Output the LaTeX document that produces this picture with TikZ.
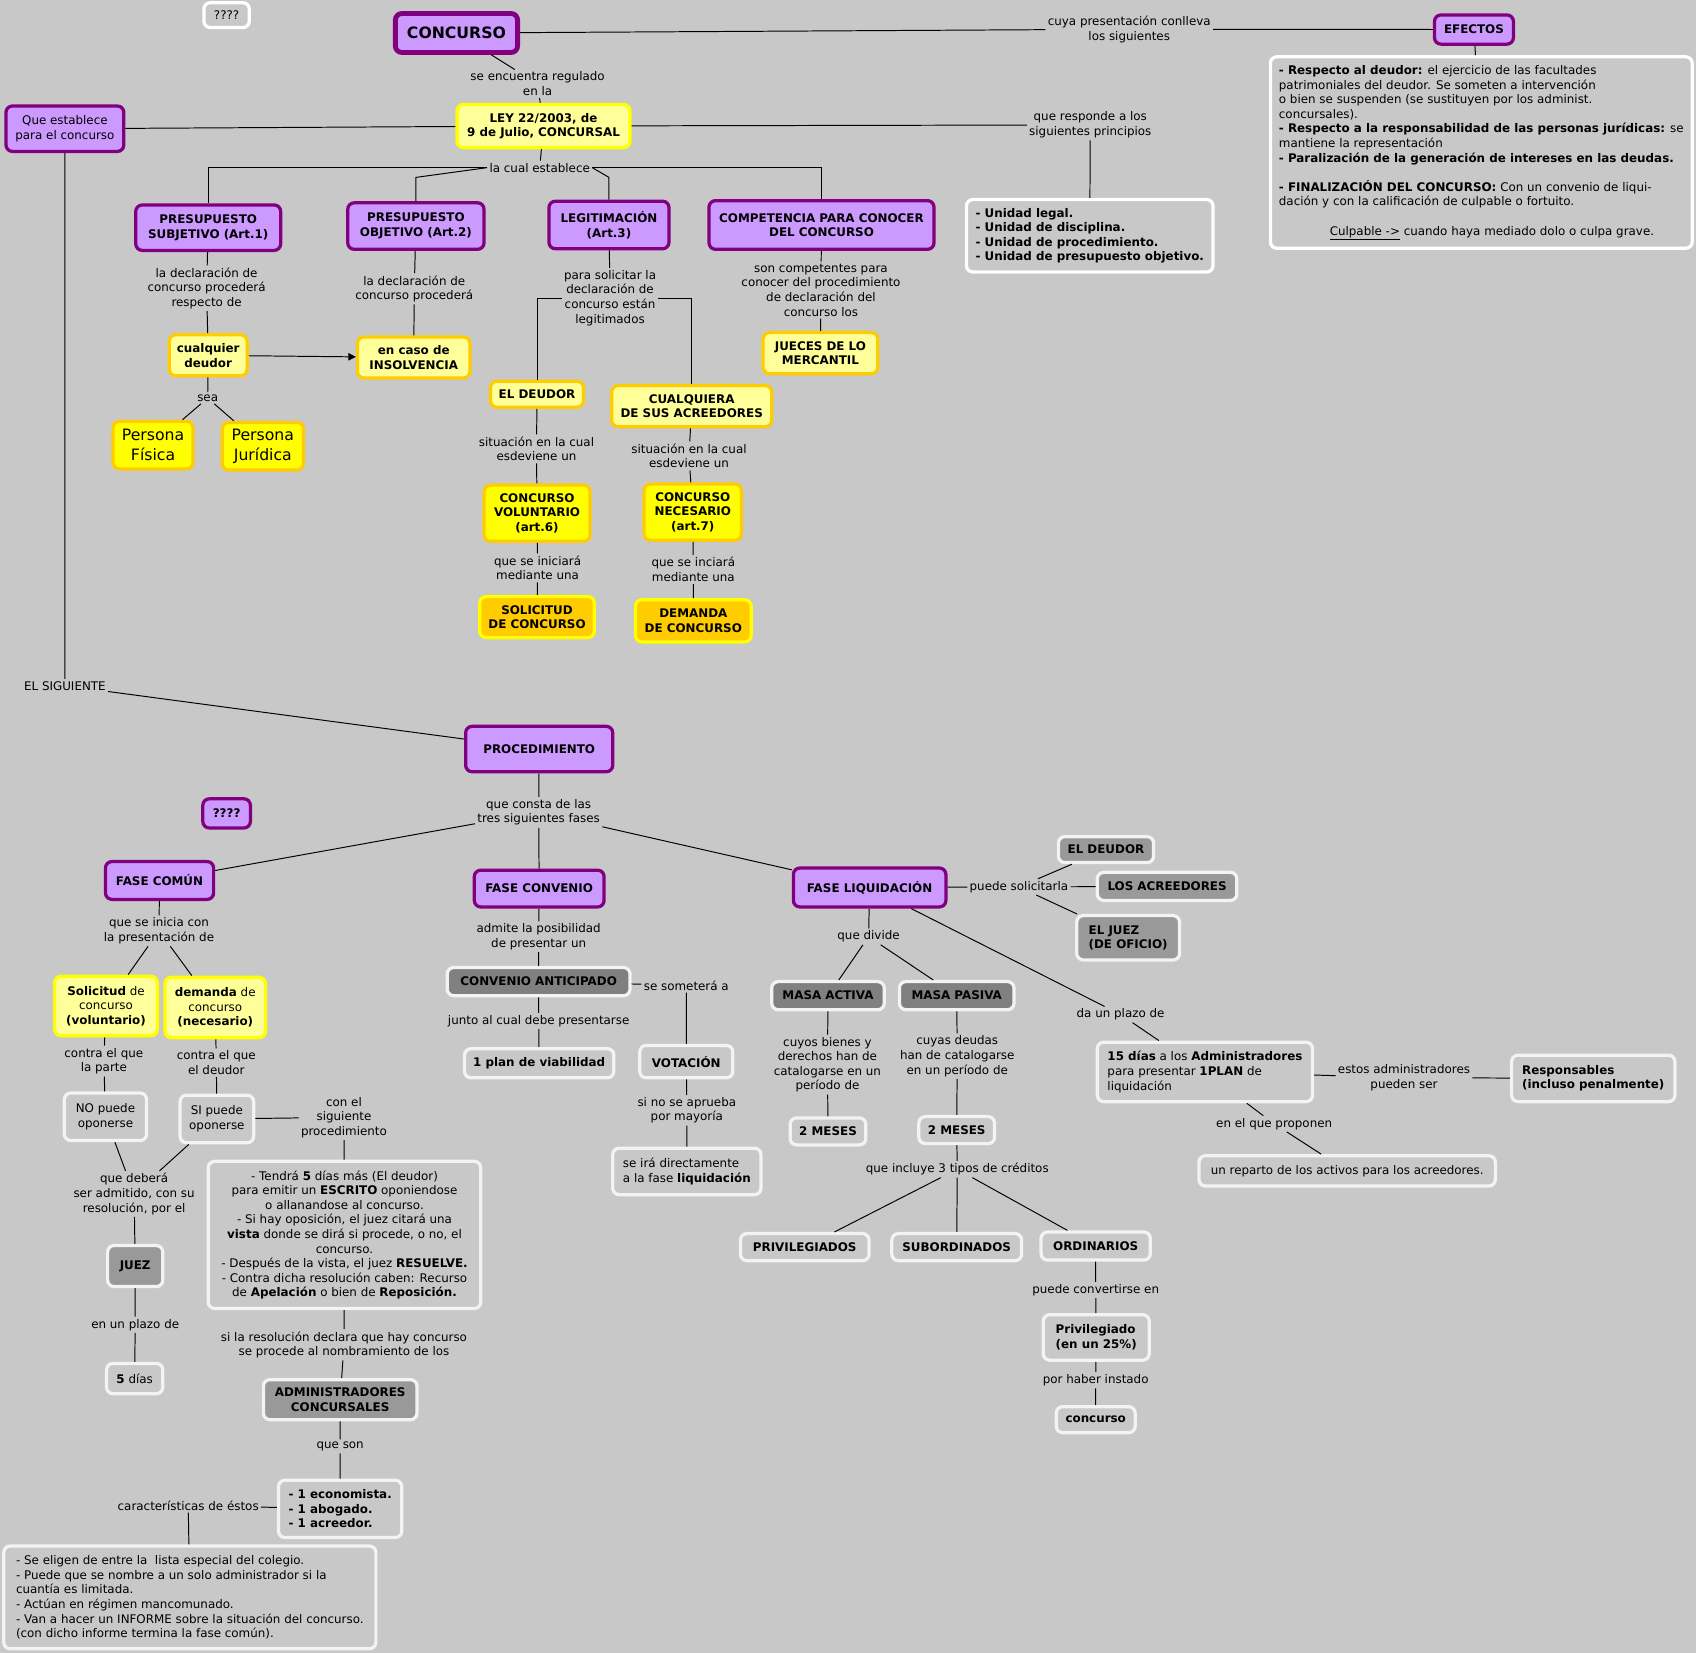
\documentclass[tikz,border=0pt]{standalone}
\usepackage{fontspec}
\setmainfont{DejaVu Sans}
\usetikzlibrary{arrows.meta}
\definecolor{cBg}   {RGB}{200,200,200}
\definecolor{cPurp} {RGB}{204,153,255}
\definecolor{cPurpD}{RGB}{128,0,128}
\definecolor{cYelL} {RGB}{255,255,153}
\definecolor{cYel}  {RGB}{255,255,0}
\definecolor{cOra}  {RGB}{255,204,0}
\definecolor{cGryD} {RGB}{128,128,128}
\definecolor{cGry}  {RGB}{153,153,153}
\definecolor{cEdge} {RGB}{240,244,244}
\tikzset{
  cbox/.style={draw, rounded corners=6pt, line width=3pt, align=center,
    inner xsep=3pt, inner ysep=2pt, font=\fontsize{11}{13.5}\selectfont\bfseries},
  sz/.style 2 args={minimum width=#1pt, minimum height=#2pt},
  nrm/.style={font=\fontsize{11}{13.5}\selectfont},
  big/.style={font=\fontsize{14.5}{18}\selectfont},
  purp/.style={cbox, fill=cPurp, draw=cPurpD},
  ylw/.style={cbox, fill=cYelL, draw=cOra},
  ylwb/.style={cbox, fill=cYelL, draw=cYel},
  ylwf/.style={cbox, fill=cYel, draw=cOra},
  ora/.style={cbox, fill=cOra, draw=cYel},
  gryd/.style={cbox, fill=cGryD, draw=cEdge},
  gry/.style={cbox, fill=cGry, draw=cEdge},
  lite/.style={cbox, fill=cBg, draw=cEdge},
  wht/.style={cbox, fill=cBg, draw=white},
  lnk/.style={align=center, inner sep=2pt, font=\fontsize{11}{13.5}\selectfont},
  cline/.style={draw=black, line width=0.9pt},
}

\begin{document}
\begin{tikzpicture}[x=1pt,y=-1pt]

% fondo
\fill[cBg] (0,0) rectangle (1568,1528);
\useasboundingbox (0,0) rectangle (1568,1528);

% =================== CONCURSO / LEY ===================
\node[wht,nrm,sz={42}{23}] (qa) at (209.5,14) {????};
\node[purp,sz={113}{36},line width=4.5pt,font=\fontsize{14.5}{17}\selectfont\bfseries]
  (conc) at (422,30.5) {CONCURSO};
\node[purp,sz={73}{27}] (efe) at (1362.7,27.3) {EFECTOS};
\node[wht,nrm,align=left,sz={390}{177}] (efebox) at (1369.5,141) {%
  \textbf{- Respecto al deudor:} el ejercicio de las facultades\\
  patrimoniales del deudor. Se someten a intervención\\
  o bien se suspenden (se sustituyen por los administ.\\
  concursales).\\
  \textbf{- Respecto a la responsabilidad de las personas jurídicas:} se\\
  mantiene la representación\\
  \textbf{- Paralización de la generación de intereses en las deudas.}\\[13.5pt]
  \textbf{- FINALIZACIÓN DEL CONCURSO:} Con un convenio de liqui-\\
  dación y con la calificación de culpable o fortuito.\\[13.5pt]
  \hspace*{47pt}\underline{Culpable ->} cuando haya mediado dolo o culpa grave.};
\node[ylwb,sz={160}{40}] (ley) at (502.5,116.5) {LEY 22/2003, de\\9 de Julio, CONCURSAL};
\node[purp,nrm,sz={109}{42}] (que) at (60,119) {Que establece\\para el concurso};
\node[wht,align=left,sz={228}{67}] (unid) at (1007.5,218)
  {- Unidad legal.\\- Unidad de disciplina.\\- Unidad de procedimiento.\\- Unidad de presupuesto objetivo.};

\node[lnk] (l1) at (1044,27) {cuya presentación conlleva\\los siguientes};
\node[lnk] (l2) at (497,77.5) {se encuentra regulado\\en la};
\node[lnk] (l3) at (1008,115.5) {que responde a los\\siguientes principios};
\node[lnk] (est) at (499,155) {la cual establece};

% =================== PRESUPUESTOS ===================
\node[purp,sz={134}{42}] (subj) at (192.5,210.5) {PRESUPUESTO\\SUBJETIVO (Art.1)};
\node[purp,sz={126}{43}] (obj) at (384.5,209) {PRESUPUESTO\\OBJETIVO (Art.2)};
\node[purp,sz={111}{44}] (legit) at (563,208) {LEGITIMACIÓN\\(Art.3)};
\node[purp,sz={208}{45}] (comp) at (759.5,208) {COMPETENCIA PARA CONOCER\\DEL CONCURSO};
\node[ylw,sz={72}{38}] (cual) at (192.5,328.5) {cualquier\\deudor};
\node[ylw,sz={104}{38}] (insol) at (382.5,330.5) {en caso de\\INSOLVENCIA};
\node[ylwf,big,sz={74}{44}] (pfis) at (141.5,411.5) {Persona\\Física};
\node[ylwf,big,sz={75}{44}] (pjur) at (243,412.5) {Persona\\Jurídica};
\node[ylw,sz={86}{24}] (deud) at (496.5,364.5) {EL DEUDOR};
\node[ylw,sz={148}{38}] (acre) at (639.5,375.5) {CUALQUIERA\\DE SUS ACREEDORES};
\node[ylw,sz={106}{38}] (jue) at (758.5,326.5) {JUECES DE LO\\MERCANTIL};
\node[ylwf,sz={98}{52}] (vol) at (496.5,474.5) {CONCURSO\\VOLUNTARIO\\(art.6)};
\node[ylwf,sz={90}{52}] (nec) at (640.5,473.5) {CONCURSO\\NECESARIO\\(art.7)};
\node[ora,sz={106}{38}] (sol) at (496.5,570.5) {SOLICITUD\\DE CONCURSO};
\node[ora,sz={107}{39}] (dem) at (641,574) {DEMANDA\\DE CONCURSO};

\node[lnk] (l5) at (191,266.5) {la declaración de\\concurso procederá\\respecto de};
\node[lnk] (l6) at (383,267) {la declaración de\\concurso procederá};
\node[lnk] (l7) at (564,275.5) {para solicitar la\\declaración de\\concurso están\\legitimados};
\node[lnk] (l8) at (759,268.3) {son competentes para\\conocer del procedimiento\\de declaración del\\concurso los};
\node[lnk] (sea) at (192,368) {sea};
\node[lnk] (l10) at (496,415) {situación en la cual\\esdeviene un};
\node[lnk] (l11) at (637,421.5) {situación en la cual\\esdeviene un};
\node[lnk] (l12) at (497,525) {que se iniciará\\mediante una};
\node[lnk] (l13) at (641,526.5) {que se inciará\\mediante una};

% =================== PROCEDIMIENTO ===================
\node[lnk] (sig) at (60,634) {EL SIGUIENTE};
\node[purp,sz={136}{42}] (proc) at (498.5,692.5) {PROCEDIMIENTO};
\node[purp,sz={44}{27}] (qb) at (209.5,752) {????};
\node[lnk] (l15) at (498,751) {que consta de las\\tres siguientes fases};
\node[purp,sz={100}{35}] (comun) at (147.5,814) {FASE COMÚN};
\node[purp,sz={120}{34}] (fconv) at (498.5,821.5) {FASE CONVENIO};
\node[purp,sz={141}{36}] (liq) at (804,820.5) {FASE LIQUIDACIÓN};

% fase común
\node[lnk] (l16) at (147,860.6) {que se inicia con\\la presentación de};
\node[ylwb,nrm,sz={95}{55}] (solv) at (98,930) {\textbf{Solicitud} de\\concurso\\\textbf{(voluntario)}};
\node[ylwb,nrm,sz={93}{56}] (demv) at (199,931.5) {\textbf{demanda} de\\concurso\\\textbf{(necesario)}};
\node[lnk] (l31) at (96,981) {contra el que\\la parte};
\node[lnk] (l32) at (200,982.5) {contra el que\\el deudor};
\node[lite,nrm,sz={76}{44}] (nop) at (97.5,1032.5) {NO puede\\oponerse};
\node[lite,nrm,sz={68}{44}] (sip) at (200.5,1034.5) {SI puede\\oponerse};
\node[lnk] (l33) at (318,1033) {con el\\siguiente\\procedimiento};
\node[lite,nrm,sz={252}{136}] (pbox) at (318.5,1141.7) {%
  - Tendrá \textbf{5} días más (El deudor)\\
  para emitir un \textbf{ESCRITO} oponiendose\\
  o allanandose al concurso.\\
  - Si hay oposición, el juez citará una\\
  \textbf{vista} donde se dirá si procede, o no, el\\
  concurso.\\
  - Después de la vista, el juez \textbf{RESUELVE.}\\
  - Contra dicha resolución caben: Recurso\\
  de \textbf{Apelación} o bien de \textbf{Reposición.}};
\node[lnk] (l34) at (124,1103.8) {que deberá\\ser admitido, con su\\resolución, por el};
\node[gry,sz={51}{38}] (juez) at (125,1170.5) {JUEZ};
\node[lnk] (l35) at (125,1224.8) {en un plazo de};
\node[lite,nrm,sz={52}{28}] (dias5) at (124.5,1274.5) {\textbf{5} días};
\node[lnk] (l36) at (318,1243.3) {si la resolución declara que hay concurso\\se procede al nombramiento de los};
\node[gry,sz={142}{37}] (adm) at (314.5,1294) {ADMINISTRADORES\\CONCURSALES};
\node[lnk] (l37) at (314.5,1337.2) {que son};
\node[lite,align=left,sz={114}{53}] (lista) at (314.5,1395) {- 1 economista.\\- 1 abogado.\\- 1 acreedor.};
\node[lnk] (l38) at (174,1391.8) {características de éstos};
\node[lite,nrm,align=left,sz={344}{95}] (carbox) at (175.5,1476.8) {%
  - Se eligen de entre la \ lista especial del colegio.\\
  - Puede que se nombre a un solo administrador si la\\
  cuantía es limitada.\\
  - Actúan en régimen mancomunado.\\
  - Van a hacer un INFORME sobre la situación del concurso.\\
  (con dicho informe termina la fase común).};

% fase convenio
\node[lnk] (l17) at (498,866) {admite la posibilidad\\de presentar un};
\node[gryd,sz={169}{26}] (anti) at (498,907.5) {CONVENIO ANTICIPADO};
\node[lnk] (l18) at (498,944) {junto al cual debe presentarse};
\node[lite,sz={138}{27}] (plan) at (498.5,983) {1 plan de viabilidad};
\node[lnk] (l19) at (634.5,911) {se someterá a};
\node[lite,sz={86}{30}] (vot) at (634.5,981.5) {VOTACIÓN};
\node[lnk] (l20) at (635,1026.5) {si no se aprueba\\por mayoría};
\node[lite,nrm,align=left,sz={137}{43}] (ira) at (635,1083) {se irá directamente\\a la fase \textbf{liquidación}};

% fase liquidación
\node[lnk] (l21) at (942,820) {puede solicitarla};
\node[gry,sz={88}{24}] (deud2) at (1022.5,785.5) {EL DEUDOR};
\node[gry,sz={129}{26}] (lacre) at (1079,819.5) {LOS ACREEDORES};
\node[gry,align=left,sz={95}{41}] (juez2) at (1043,867) {EL JUEZ\\(DE OFICIO)};
\node[lnk] (l22) at (803,866) {que divide};
\node[gryd,sz={104}{26}] (mact) at (765.5,920.5) {MASA ACTIVA};
\node[gryd,sz={106}{26}] (mpas) at (884.5,920.5) {MASA PASIVA};
\node[lnk] (l24) at (765,984.3) {cuyos bienes y\\derechos han de\\catalogarse en un\\período de};
\node[lnk] (l25) at (885,976.5) {cuyas deudas\\han de catalogarse\\en un período de};
\node[lite,sz={70}{25}] (mes1) at (765.5,1046) {2 MESES};
\node[lite,sz={70}{25}] (mes2) at (884.5,1044.8) {2 MESES};
\node[lnk] (l28) at (885,1081) {que incluye 3 tipos de créditos};
\node[lite,sz={119}{25}] (priv) at (744,1153) {PRIVILEGIADOS};
\node[lite,sz={120}{25}] (subo) at (884.5,1153) {SUBORDINADOS};
\node[lite,sz={101}{26}] (ordi) at (1013,1152) {ORDINARIOS};
\node[lnk] (l29) at (1013,1192.6) {puede convertirse en};
\node[lite,align=left,sz={98}{42}] (privi) at (1013.5,1236.5) {Privilegiado\\(en un 25\%)};
\node[lnk] (l30) at (1013,1276) {por haber instado};
\node[lite,sz={73}{24}] (conc2) at (1013,1312.5) {concurso};
\node[lnk] (l23) at (1036,938) {da un plazo de};
\node[lite,nrm,align=left,sz={199}{55}] (dias15) at (1114,991)
  {\textbf{15 días} a los \textbf{Administradores}\\para presentar \textbf{1PLAN} de\\liquidación};
\node[lnk] (l26) at (1298,996.3) {estos administradores\\pueden ser};
\node[lite,align=left,sz={151}{43}] (resp) at (1473,997) {Responsables\\(incluso penalmente)};
\node[lnk] (l27) at (1178,1039) {en el que proponen};
\node[lite,nrm,sz={274}{28}] (rep) at (1245.5,1082.5) {un reparto de los activos para los acreedores.};

% =================== CONECTORES ===================
\draw[cline] (conc) -- (l1) (l1) -- (efe) (efe) -- (efebox);
\draw[cline] (conc) -- (l2) (l2) -- (ley);
\draw[cline] (que) -- (ley);
\draw[cline] (ley) -- (l3) (l3) -- (unid);
\draw[cline] (ley) -- (est);
\draw[cline] (est.west) -| (subj.north);
\draw[cline] (est.west) -- (obj.north |- 0,164) -- (obj.north);
\draw[cline] (est.east) -- (legit.north |- 0,164) -- (legit.north);
\draw[cline] (est.east) -| (comp.north);
\draw[cline] (subj) -- (l5) (l5) -- (cual);
\draw[cline,-{Triangle[length=7pt,width=7pt]}] (cual) -- (insol);
\draw[cline] (cual) -- (sea) (sea) -- (pfis) (sea) -- (pjur);
\draw[cline] (obj) -- (l6) (l6) -- (insol);
\draw[cline] (legit) -- (l7);
\draw[cline] (l7.west) -| (deud.north);
\draw[cline] (l7.east) -| (acre.north);
\draw[cline] (comp) -- (l8) (l8) -- (jue);
\draw[cline] (deud) -- (l10) (l10) -- (vol) (vol) -- (l12) (l12) -- (sol);
\draw[cline] (acre) -- (l11) (l11) -- (nec) (nec) -- (l13) (l13) -- (dem);
\draw[cline] (que) -- (sig) (sig) -- (proc);
\draw[cline] (proc) -- (l15) (l15) -- (comun) (l15) -- (fconv) (l15) -- (liq);
\draw[cline] (comun) -- (l16) (l16) -- (solv) (l16) -- (demv);
\draw[cline] (solv) -- (l31) (l31) -- (nop);
\draw[cline] (demv) -- (l32) (l32) -- (sip);
\draw[cline] (nop) -- (l34) (sip) -- (l34) (l34) -- (juez) (juez) -- (l35) (l35) -- (dias5);
\draw[cline] (sip) -- (l33) (l33) -- (pbox) (pbox) -- (l36) (l36) -- (adm);
\draw[cline] (adm) -- (l37) (l37) -- (lista) (lista) -- (l38) (l38) -- (carbox);
\draw[cline] (fconv) -- (l17) (l17) -- (anti) (anti) -- (l18) (l18) -- (plan);
\draw[cline] (anti) -- (l19) (l19) -- (vot) (vot) -- (l20) (l20) -- (ira);
\draw[cline] (liq) -- (l21) (l21) -- (deud2) (l21) -- (lacre) (l21) -- (juez2);
\draw[cline] (liq) -- (l22) (l22) -- (mact) (l22) -- (mpas);
\draw[cline] (mact) -- (l24) (l24) -- (mes1);
\draw[cline] (mpas) -- (l25) (l25) -- (mes2) (mes2) -- (l28);
\draw[cline] (l28) -- (priv) (l28) -- (subo) (l28) -- (ordi);
\draw[cline] (ordi) -- (l29) (l29) -- (privi) (privi) -- (l30) (l30) -- (conc2);
\draw[cline] (liq) -- (l23) (l23) -- (dias15);
\draw[cline] (dias15) -- (l26) (l26) -- (resp);
\draw[cline] (dias15) -- (l27) (l27) -- (rep);

\end{tikzpicture}
\end{document}
